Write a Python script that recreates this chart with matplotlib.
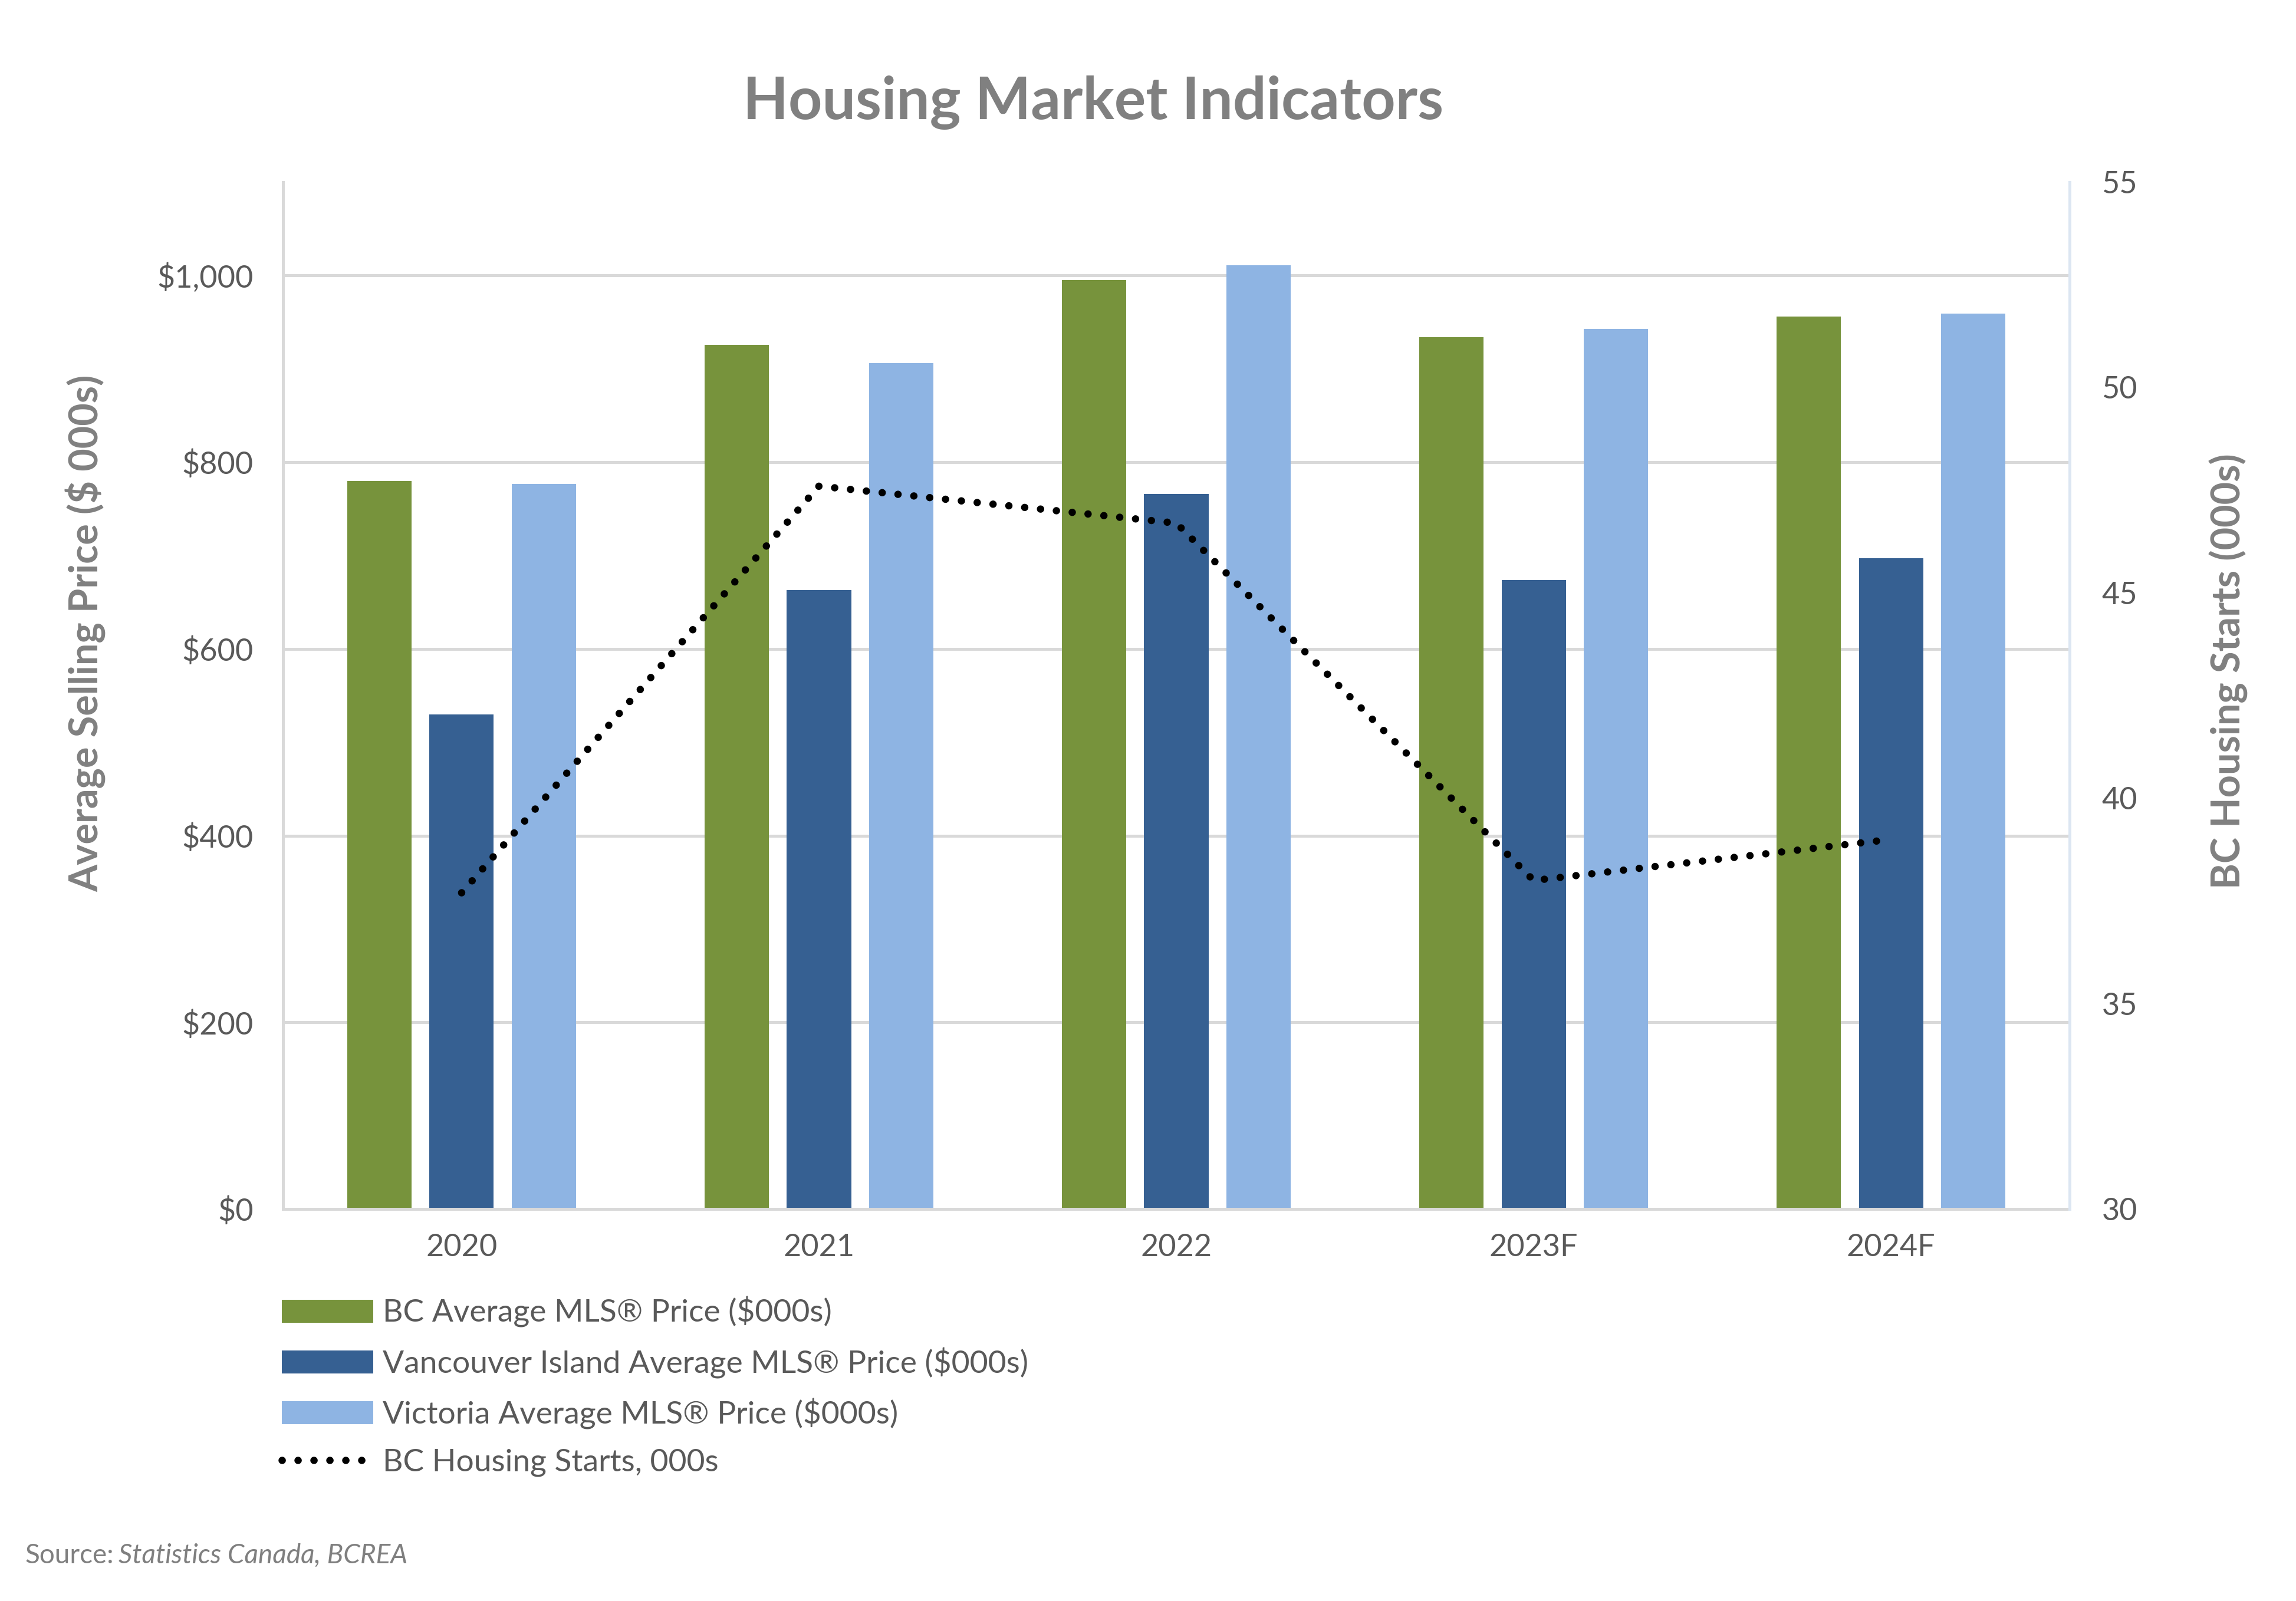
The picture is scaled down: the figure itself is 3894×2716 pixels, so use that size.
#!/usr/bin/env python3
"""
Housing Market Indicators - BC, Vancouver Island and Victoria prices
with BC housing starts on a second axis
"""

import numpy as np
import matplotlib.pyplot as plt
from matplotlib.ticker import FuncFormatter

# Data
years = ['2020', '2021', '2022', '2023F', '2024F']
bc_price = [780, 926, 995, 934, 956]
van_island_price = [530, 663, 766, 674, 697]
victoria_price = [777, 906, 1011, 943, 959]
housing_starts = [37.7, 47.6, 46.7, 38.0, 39.0]

left_ticks = [0, 200, 400, 600, 800, 1000]
right_ticks = [30, 35, 40, 45, 50, 55]

GREEN = '#77933C'
DARK_BLUE = '#366092'
LIGHT_BLUE = '#8EB4E3'
GREY_TEXT = '#595959'
TITLE_GREY = '#808080'

plt.rcParams['font.family'] = ['Lato', 'DejaVu Sans']

fig = plt.figure(figsize=(3895 / 300, 2716 / 300), dpi=300)
ax = fig.add_axes([0.1232, 0.2448, 0.9012 - 0.1232, 0.8862 - 0.2448])
ax2 = ax.twinx()

x = np.arange(len(years))
width = 0.18
step = 0.23

ax.bar(x - step, bc_price, width, color=GREEN, label='BC Average MLS® Price ($000s)', zorder=2)
ax.bar(x, van_island_price, width, color=DARK_BLUE, label='Vancouver Island Average MLS® Price ($000s)', zorder=2)
ax.bar(x + step, victoria_price, width, color=LIGHT_BLUE, label='Victoria Average MLS® Price ($000s)', zorder=2)

line, = ax2.plot(x, housing_starts, color='black', linewidth=3.0,
                 linestyle=(0, (0.01, 2.15)), dash_capstyle='round',
                 label='BC Housing Starts, 000s')

ax.set_xlim(-0.5, len(years) - 0.5)
ax.set_ylim(0, 1100)
ax2.set_ylim(30, 55)

ax.set_yticks(left_ticks)
ax.yaxis.set_major_formatter(FuncFormatter(lambda v, p: f'${v:,.0f}'))
ax2.set_yticks(right_ticks)
ax.set_xticks(x)
ax.set_xticklabels(years)

ax.grid(axis='y', color='#D9D9D9', linewidth=1.2, zorder=0)
ax.set_axisbelow(True)

ax.tick_params(axis='y', length=0, pad=12, labelsize=12.5, labelcolor=GREY_TEXT)
ax.tick_params(axis='x', length=0, pad=10, labelsize=12.5, labelcolor=GREY_TEXT)
ax2.tick_params(axis='y', length=0, pad=13, labelsize=12.5, labelcolor=GREY_TEXT)

for a in (ax, ax2):
    a.spines['top'].set_visible(False)
ax.spines['left'].set_color('#D9D9D9')
ax.spines['left'].set_linewidth(1.2)
ax.spines['bottom'].set_color('#D9D9D9')
ax.spines['bottom'].set_linewidth(1.2)
ax.spines['right'].set_visible(False)
ax2.spines['left'].set_visible(False)
ax2.spines['bottom'].set_visible(False)
ax2.spines['right'].set_color('#DCE6F2')
ax2.spines['right'].set_linewidth(1.2)

ax.set_ylabel('Average Selling Price ($ 000s)', fontsize=16, fontweight='bold',
              color=TITLE_GREY)
ax.yaxis.set_label_coords(-0.099, 0.561)
ax2.set_ylabel('BC Housing Starts (000s)', fontsize=16, fontweight='bold',
               color=TITLE_GREY, rotation=90)
ax2.yaxis.set_label_coords(1.078, 0.524)

fig.text(0.476, 0.936, 'Housing Market Indicators', ha='center', va='center',
         fontsize=24, fontweight='bold', color=TITLE_GREY)

handles, labels = ax.get_legend_handles_labels()
handles.append(line)
labels.append(line.get_label())
leg = fig.legend(handles, labels, loc='upper left', bbox_to_anchor=(0.116, 0.2),
                 frameon=False, fontsize=12.8, handlelength=2.9, handleheight=0.75,
                 labelspacing=0.62, borderpad=0, handletextpad=0.3)
for t in leg.get_texts():
    t.set_color(GREY_TEXT)

fig.text(0.011, 0.0285, 'Source:', fontsize=11, color='#7F7F7F', ha='left', va='center')
fig.text(0.0515, 0.0285, 'Statistics Canada, BCREA', fontsize=11, color='#7F7F7F',
         ha='left', va='center', style='italic')

fig.savefig('out.png', dpi=300)
